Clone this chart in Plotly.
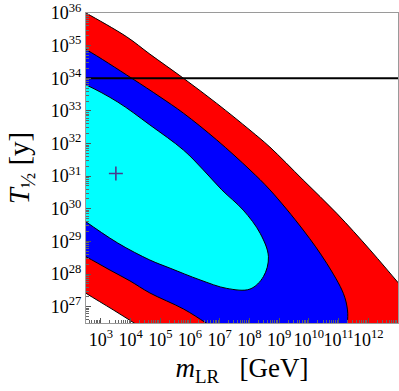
import plotly.graph_objects as go

# ---- data (log10 of m_LR [GeV] and log10 of T_1/2 [y]) ----
# outer (red) region: upper-right boundary, left to right
RED_UPPER_LOGM = [1.5, 2.0, 2.52, 3.87, 4.65, 5.78, 6.90, 8.02, 8.69, 9.81, 10.94, 12.06, 13.0, 13.5, 14.0]
RED_UPPER_LOGT = [36.5, 36.25, 35.99, 35.27, 34.74, 34.00, 33.23, 32.41, 31.89, 30.88, 29.86, 28.74, 27.74, 27.2, 26.6]
# outer (red) region: lower-left boundary, left to right
RED_LOWER_LOGM = [1.5, 2.0, 2.5, 3.42, 4.12, 4.8, 5.6]
RED_LOWER_LOGT = [27.95, 27.7, 27.41, 26.9, 26.5, 26.1, 25.6]
RED_CLOSE = (15.0, 24.0)

# middle (blue) region
BLUE_UPPER_LOGM = [1.5, 2.0, 2.52, 4.04, 4.99, 5.78, 6.90, 8.02, 8.69, 9.81, 10.60, 11.16, 11.30, 11.30, 11.26, 11.18]
BLUE_UPPER_LOGT = [35.35, 35.1, 34.87, 34.00, 33.43, 32.93, 32.11, 31.19, 30.58, 29.35, 28.33, 27.41, 26.90, 26.50, 26.1, 25.7]
BLUE_LOWER_LOGM = [1.5, 2.0, 2.5, 3.31, 3.98, 4.65, 5.78, 6.54, 7.2, 7.8]
BLUE_LOWER_LOGT = [28.95, 28.75, 28.53, 28.12, 27.79, 27.42, 26.93, 26.5, 26.1, 25.75]
BLUE_CLOSE = (9.5, 24.5)

# inner (cyan) region, clockwise from the upper left
CYAN_LOGM = [1.8, 2.52, 3.57, 4.65, 5.78, 6.45, 7.07, 7.79, 8.36, 8.64, 8.47, 8.02, 7.24, 6.34, 5.33, 4.65, 3.57, 2.5, 1.8]
CYAN_LOGT = [34.05, 33.79, 33.27, 32.57, 31.80, 31.19, 30.58, 29.96, 29.25, 28.53, 27.92, 27.54, 27.56, 27.82, 28.18, 28.43, 28.95, 29.60, 30.05]

# experimental limit and best point
LIMIT_T = 1e34
BEST_M = 3.2e3
BEST_T = 1.2e31

X_EXP_RANGE = [2.5, 13.0]
Y_EXP_RANGE = [26.5, 36.0]
X_TICK_EXP = list(range(3, 13))
Y_TICK_EXP = list(range(27, 37))

SERIF = "Liberation Serif, Times New Roman, serif"


def pw(vals):
    return [10.0 ** v for v in vals]


def band(upper_m, upper_t, close, lower_m, lower_t):
    xs = list(upper_m) + [close[0]] + list(reversed(lower_m))
    ys = list(upper_t) + [close[1]] + list(reversed(lower_t))
    return pw(xs), pw(ys)


fig = go.Figure()

rx, ry = band(RED_UPPER_LOGM, RED_UPPER_LOGT, RED_CLOSE, RED_LOWER_LOGM, RED_LOWER_LOGT)
fig.add_trace(go.Scatter(x=rx, y=ry, mode="lines", fill="toself", fillcolor="#ff0000",
                         line=dict(color="black", width=1, shape="spline"), hoverinfo="skip"))

bx, by = band(BLUE_UPPER_LOGM, BLUE_UPPER_LOGT, BLUE_CLOSE, BLUE_LOWER_LOGM, BLUE_LOWER_LOGT)
fig.add_trace(go.Scatter(x=bx, y=by, mode="lines", fill="toself", fillcolor="#0000ff",
                         line=dict(color="black", width=1, shape="spline"), hoverinfo="skip"))

fig.add_trace(go.Scatter(x=pw(CYAN_LOGM), y=pw(CYAN_LOGT), mode="lines", fill="toself", fillcolor="#00ffff",
                         line=dict(color="black", width=1, shape="spline"), hoverinfo="skip"))

fig.add_trace(go.Scatter(x=[10.0 ** X_EXP_RANGE[0], 10.0 ** X_EXP_RANGE[1]], y=[LIMIT_T, LIMIT_T],
                         mode="lines", line=dict(color="black", width=2.2), hoverinfo="skip"))

fig.add_trace(go.Scatter(x=[BEST_M], y=[BEST_T], mode="markers",
                         marker=dict(symbol="cross-thin", size=10, line=dict(color="#4b3a8c", width=1.6)),
                         hoverinfo="skip"))

minor_x = [k * 10.0 ** d for d in range(2, 14) for k in range(2, 10)]
minor_y = [k * 10.0 ** d for d in range(26, 37) for k in range(2, 10)]

axis_common = dict(type="log", showgrid=False, zeroline=False, showline=True, linecolor="#9a9a9a",
                   linewidth=1, mirror=True, ticks="inside", ticklen=5, tickcolor="#555555",
                   tickangle=0, automargin=False,
                   tickfont=dict(family=SERIF, size=18, color="black"))

fig.update_xaxes(range=X_EXP_RANGE, tickmode="array", tickvals=[10.0 ** k for k in X_TICK_EXP],
                 ticktext=[f"10<sup>{k}</sup>" for k in X_TICK_EXP],
                 minor=dict(tickmode="array", tickvals=minor_x, ticks="inside", ticklen=3, tickcolor="#666666"),
                 title=dict(text="<i>m</i><sub>LR</sub>   [GeV]", font=dict(family=SERIF, size=27, color="black"),
                            standoff=9),
                 **axis_common)
fig.update_yaxes(range=Y_EXP_RANGE, tickmode="array", tickvals=[10.0 ** k for k in Y_TICK_EXP],
                 ticktext=[f"10<sup>{k}</sup>" for k in Y_TICK_EXP],
                 minor=dict(tickmode="array", tickvals=minor_y, ticks="inside", ticklen=3, tickcolor="#666666"),
                 title=dict(text="<i>T</i><sub>½</sub> [y]", font=dict(family=SERIF, size=29, color="black"),
                            standoff=12),
                 **axis_common)

fig.update_layout(width=399, height=391, margin=dict(l=86, r=1, t=13, b=68),
                  paper_bgcolor="white", plot_bgcolor="white", showlegend=False)

fig.write_html("out.html", config={"displayModeBar": False},
               post_script="document.body.style.margin='0';document.body.style.overflow='hidden';")
